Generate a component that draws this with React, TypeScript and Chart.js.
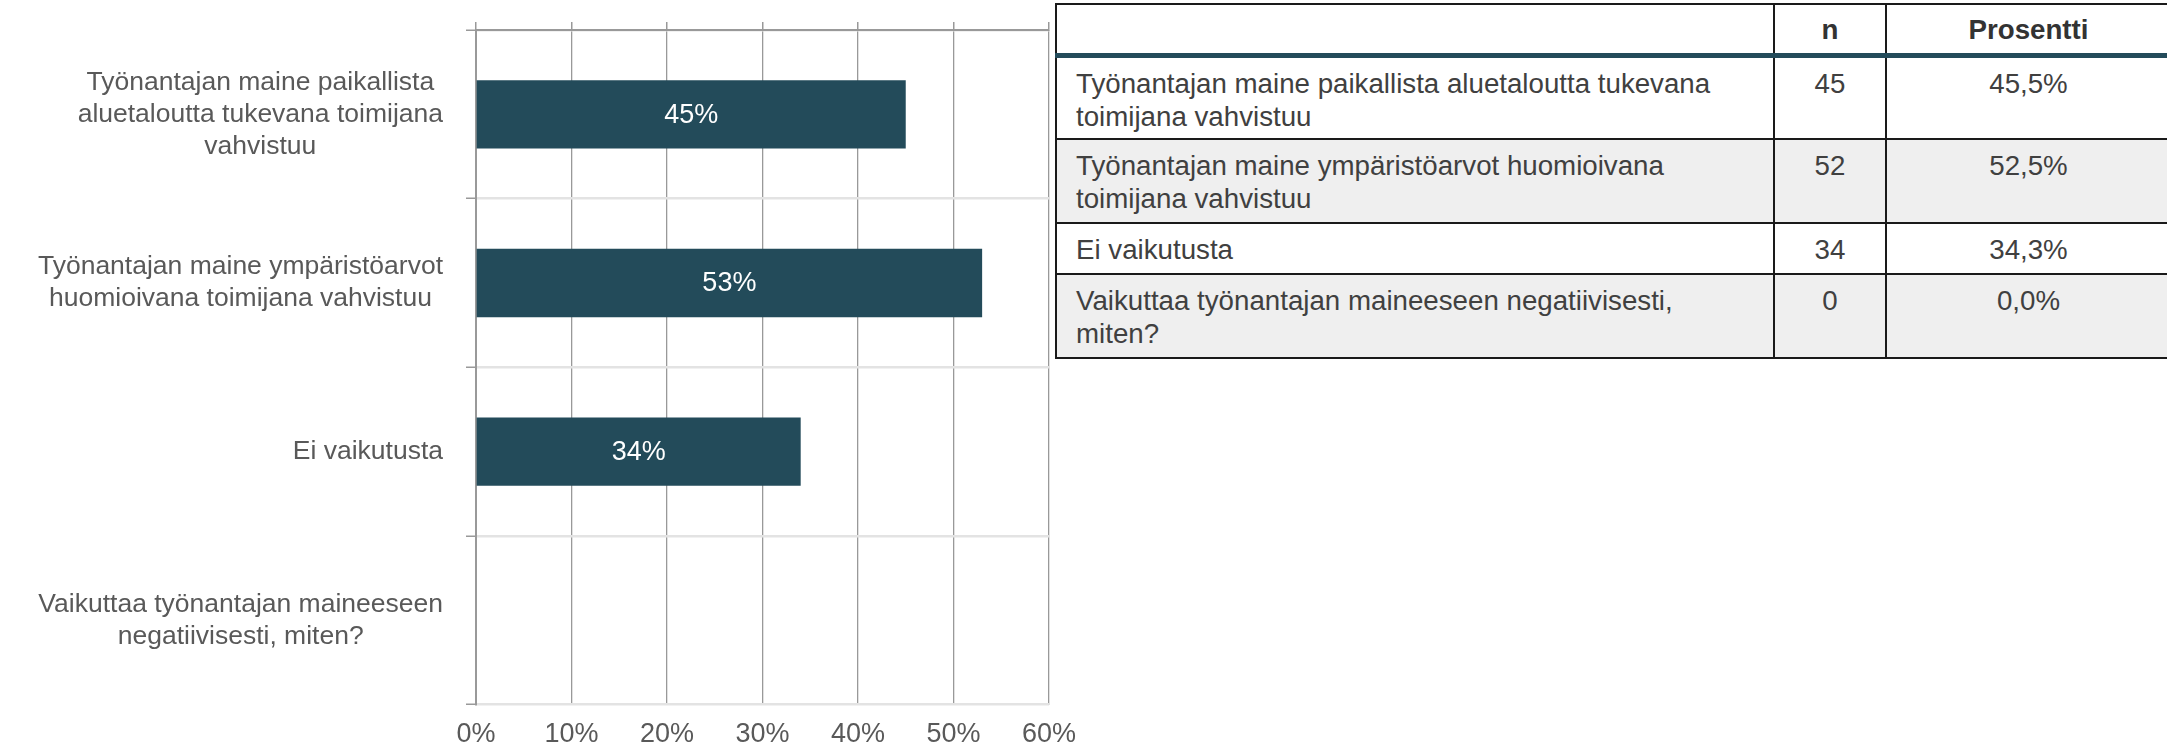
import React, { useEffect, useRef } from 'react';
import { Chart, registerables } from 'chart.js';

Chart.register(...registerables);

// ---- Data ----
const categoryLines: string[][] = [
  ['Työnantajan maine paikallista', 'aluetaloutta tukevana toimijana', 'vahvistuu'],
  ['Työnantajan maine ympäristöarvot', 'huomioivana toimijana vahvistuu'],
  ['Ei vaikutusta'],
  ['Vaikuttaa työnantajan maineeseen', 'negatiivisesti, miten?'],
];
const percentValues: number[] = [45, 53, 34, 0];
const xMin = 0;
const xMax = 60;
const xStep = 10;

const tableHeader: string[] = ['', 'n', 'Prosentti'];
const tableLabels: string[] = [
  'Työnantajan maine paikallista aluetaloutta tukevana toimijana vahvistuu',
  'Työnantajan maine ympäristöarvot huomioivana toimijana vahvistuu',
  'Ei vaikutusta',
  'Vaikuttaa työnantajan maineeseen negatiivisesti, miten?',
];
const tableN: number[] = [45, 52, 34, 0];
const tablePercent: string[] = ['45,5%', '52,5%', '34,3%', '0,0%'];

const FONT = '"Liberation Sans", Arial, sans-serif';
const TEXT = '#595959';
const BAR = '#234b5a';
const GRID = '#999999';

const yLabelPlugin = {
  id: 'yLabelPlugin',
  afterDraw(chart: any) {
    const ctx = chart.ctx;
    const yScale = chart.scales.y;
    ctx.save();
    ctx.font = `26.5px ${FONT}`;
    ctx.fillStyle = TEXT;
    ctx.textAlign = 'center';
    ctx.textBaseline = 'middle';
    const right = chart.chartArea.left - 33;
    const lh = 32;
    categoryLines.forEach((lines, i) => {
      const widest = Math.max(...lines.map((l) => ctx.measureText(l).width));
      const cx = right - widest / 2;
      const cy = yScale.getPixelForValue(i);
      lines.forEach((l, j) => {
        ctx.fillText(l, cx, cy + (j - (lines.length - 1) / 2) * lh);
      });
    });
    ctx.restore();
  },
};

const barLabelPlugin = {
  id: 'barLabelPlugin',
  afterDatasetsDraw(chart: any) {
    const ctx = chart.ctx;
    const meta = chart.getDatasetMeta(0);
    ctx.save();
    ctx.font = `27px ${FONT}`;
    ctx.fillStyle = '#ffffff';
    ctx.textAlign = 'center';
    ctx.textBaseline = 'middle';
    meta.data.forEach((bar: any, i: number) => {
      const v = percentValues[i];
      if (!v) return;
      const { x, y, base } = bar.getProps(['x', 'y', 'base'], true);
      ctx.fillText(Math.round(v) + '%', (x + base) / 2, y + 1);
    });
    ctx.restore();
  },
};

function BarChart() {
  const ref = useRef<HTMLCanvasElement | null>(null);
  useEffect(() => {
    if (!ref.current) return;
    const chart = new Chart(ref.current, {
      type: 'bar',
      data: {
        labels: categoryLines.map((l) => l.join(' ')),
        datasets: [
          {
            data: percentValues,
            backgroundColor: BAR,
            barPercentage: 0.405,
            categoryPercentage: 1,
            xAxisID: 'x',
            yAxisID: 'y',
          },
        ],
      },
      options: {
        indexAxis: 'y',
        animation: false,
        responsive: false,
        devicePixelRatio: 1,
        layout: { padding: { left: 466, right: 38, top: 22, bottom: 0 } },
        plugins: { legend: { display: false }, tooltip: { enabled: false } },
        scales: {
          x: {
            type: 'linear',
            position: 'bottom',
            min: xMin,
            max: xMax,
            ticks: {
              stepSize: xStep,
              callback: (v: any) => v + '%',
              font: { size: 27, family: FONT },
              color: TEXT,
              padding: 14,
            },
            grid: { color: GRID, lineWidth: 1.3, drawTicks: false },
            border: { display: false },
          },
          x2: {
            type: 'linear',
            position: 'top',
            min: xMin,
            max: xMax,
            ticks: { stepSize: xStep, display: false },
            grid: {
              drawOnChartArea: false,
              drawTicks: true,
              tickLength: 8,
              color: GRID,
              lineWidth: 1.5,
            },
            border: { display: true, color: GRID, width: 2 },
          },
          y: {
            type: 'category',
            offset: true,
            ticks: { display: false },
            grid: {
              offset: true,
              color: '#e3e3e3',
              lineWidth: 2.5,
              tickColor: GRID,
              tickWidth: 1.5,
              drawTicks: true,
              tickLength: 10,
            },
            border: { display: true, color: GRID, width: 2 },
          },
        },
      },
      plugins: [yLabelPlugin, barLabelPlugin],
    } as any);
    return () => chart.destroy();
  }, []);
  return (
    <canvas
      ref={ref}
      width={1090}
      height={765}
      style={{ position: 'absolute', left: 0, top: 0, width: 1090, height: 765 }}
    />
  );
}

function DataTable() {
  const rowHeights = [84, 84, 51, 84];
  const border = '2px solid #1a1a1a';
  const cellBase: React.CSSProperties = {
    borderLeft: border,
    borderRight: border,
    borderBottom: border,
    verticalAlign: 'top',
    paddingTop: 9,
    boxSizing: 'border-box',
  };
  return (
    <table
      style={{
        position: 'absolute',
        left: 1055,
        top: 3,
        width: 1115,
        borderCollapse: 'collapse',
        tableLayout: 'fixed',
        fontFamily: FONT,
        fontSize: 27.7,
        lineHeight: '33px',
        color: '#404040',
        background: '#ffffff',
      }}
    >
      <colgroup>
        <col style={{ width: 718 }} />
        <col style={{ width: 112 }} />
        <col style={{ width: 285 }} />
      </colgroup>
      <thead>
        <tr style={{ height: 51 }}>
          {tableHeader.map((h, i) => (
            <th
              key={i}
              style={{
                borderTop: border,
                borderLeft: border,
                borderRight: border,
                borderBottom: '5px solid ' + BAR,
                fontWeight: 'bold',
                textAlign: 'center',
                verticalAlign: 'middle',
                paddingTop: 2,
                color: '#333333',
              }}
            >
              {h}
            </th>
          ))}
        </tr>
      </thead>
      <tbody>
        {tableLabels.map((lab, i) => (
          <tr key={i} style={{ height: rowHeights[i], background: i % 2 === 1 ? '#efefef' : '#ffffff' }}>
            <td style={{ ...cellBase, textAlign: 'left', paddingLeft: 19, paddingRight: 30 }}>{lab}</td>
            <td style={{ ...cellBase, textAlign: 'center' }}>{tableN[i]}</td>
            <td style={{ ...cellBase, textAlign: 'center' }}>{tablePercent[i]}</td>
          </tr>
        ))}
      </tbody>
    </table>
  );
}

export default function App() {
  return (
    <div
      style={{
        position: 'fixed',
        left: 0,
        top: 0,
        width: 2167,
        height: 749,
        overflow: 'hidden',
        background: '#ffffff',
      }}
    >
      <BarChart />
      <DataTable />
    </div>
  );
}
